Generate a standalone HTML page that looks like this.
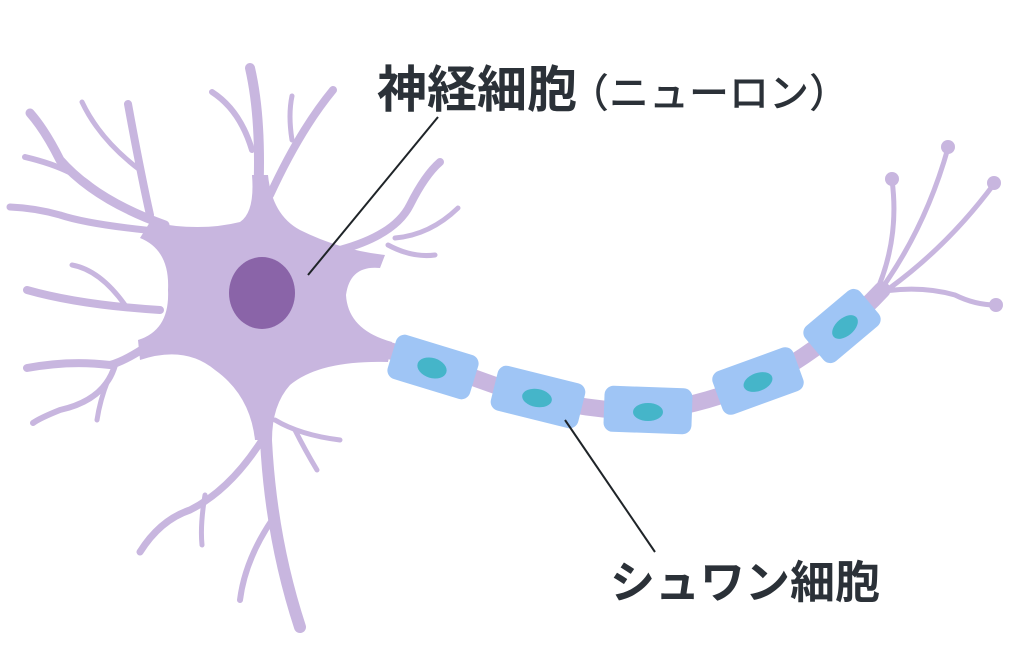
<!DOCTYPE html>
<html><head><meta charset="utf-8"><style>
html,body{margin:0;padding:0;background:#fff;width:1024px;height:666px;overflow:hidden}
svg{display:block}
text{font-family:"Liberation Sans","Noto Sans CJK JP",sans-serif;fill:#2b3138}
</style></head><body>
<svg width="1024" height="666" viewBox="0 0 1024 666" xmlns="http://www.w3.org/2000/svg">
<g fill="none" stroke="#c8b6df" stroke-linecap="round">
  <!-- top -->
  <path d="M258 200 Q262 120 250 68" stroke-width="10"/>
  <path d="M252 150 Q240 110 212 92" stroke-width="6"/>
  <path d="M270 195 Q300 130 333 90" stroke-width="8"/>
  <path d="M292 140 Q288 115 292 96" stroke-width="5"/>
  <!-- right upper -->
  <path d="M340 250 Q395 235 410 205 Q425 175 440 162" stroke-width="8"/>
  <path d="M395 238 Q430 235 458 208" stroke-width="5"/>
  <path d="M388 245 Q412 258 435 255" stroke-width="5"/>
  <!-- left upper -->
  <path d="M165 225 Q95 200 60 160 Q45 130 30 113" stroke-width="9"/>
  <path d="M100 195 Q80 170 25 157" stroke-width="6"/>
  <path d="M150 215 Q140 170 128 104" stroke-width="8"/>
  <path d="M140 170 Q100 140 82 102" stroke-width="5"/>
  <path d="M165 232 Q90 225 60 215 Q35 208 10 207" stroke-width="7"/>
  <!-- left middle -->
  <path d="M160 310 Q80 305 27 290" stroke-width="8"/>
  <path d="M125 305 Q100 270 72 265" stroke-width="5"/>
  <!-- left lower -->
  <path d="M170 330 Q130 360 110 365 Q70 360 27 368" stroke-width="8"/>
  <path d="M115 365 Q105 400 60 410 Q40 418 33 423" stroke-width="6"/>
  <path d="M108 380 Q100 400 97 420" stroke-width="5"/>
  <!-- bottom -->
  <path d="M265 400 Q265 520 300 627" stroke-width="12"/>
  <path d="M272 520 Q245 560 240 600" stroke-width="6"/>
  <path d="M262 440 Q230 490 190 510 Q160 520 140 552" stroke-width="7"/>
  <path d="M205 495 Q200 525 202 545" stroke-width="5"/>
  <path d="M275 420 Q300 435 340 440" stroke-width="5"/>
  <path d="M295 430 Q305 450 317 470" stroke-width="5"/>
  <!-- axon -->
  <path d="M370 345 Q430 362 480 380 Q560 410 650 412 Q730 400 790 365 Q845 330 882 290" stroke-width="17"/>
  <!-- terminals -->
  <path d="M875 295 Q900 240 892 180" stroke-width="5"/>
  <path d="M877 295 Q925 230 948 148" stroke-width="5"/>
  <path d="M880 295 Q945 250 994 184" stroke-width="5"/>
  <path d="M878 292 Q920 285 955 295 Q975 305 996 305" stroke-width="5"/>
</g>
<g fill="#c8b6df">
  <circle cx="892" cy="179" r="7"/><circle cx="948" cy="147" r="7"/>
  <circle cx="994" cy="183" r="7"/><circle cx="996" cy="305" r="7"/>
  <!-- soma -->
  <path d="M150 222 Q200 232 240 222 Q255 212 252 175 L268 175 Q272 215 300 230 Q340 250 385 255 L380 268 Q350 265 346 295 Q348 330 392 342 L388 362 Q320 360 290 385 Q272 405 272 440 L255 440 Q250 395 215 370 Q185 345 140 360 L138 340 Q170 330 168 290 Q170 250 140 238 Z"/>
</g>
<ellipse cx="262" cy="293" rx="33" ry="36" fill="#8a64a8"/>
<g fill="#9fc5f5">
  <rect x="-43" y="-23" width="86" height="46" rx="9" transform="translate(433,367) rotate(17)"/>
  <rect x="-45" y="-23" width="90" height="46" rx="9" transform="translate(538,397) rotate(14)"/>
  <rect x="-44" y="-23" width="88" height="46" rx="9" transform="translate(648,410) rotate(2)"/>
  <rect x="-43" y="-23" width="86" height="46" rx="9" transform="translate(758,381) rotate(-20)"/>
  <rect x="-36" y="-23" width="72" height="46" rx="9" transform="translate(842,326) rotate(-40)"/>
</g>
<g fill="#45b5c9">
  <ellipse cx="432" cy="368" rx="15" ry="10" transform="rotate(17 432 368)"/>
  <ellipse cx="537" cy="398" rx="15" ry="9" transform="rotate(10 537 398)"/>
  <ellipse cx="648" cy="412" rx="15" ry="9"/>
  <ellipse cx="758" cy="382" rx="15" ry="9" transform="rotate(-20 758 382)"/>
  <ellipse cx="845" cy="327" rx="15" ry="9" transform="rotate(-40 845 327)"/>
</g>
<g stroke="#1f2428" stroke-width="2">
  <line x1="438" y1="117" x2="308" y2="275"/>
  <line x1="565" y1="420" x2="655" y2="552"/>
</g>
<text x="377" y="107" font-size="50" font-weight="bold">神経細胞<tspan font-size="40" font-weight="500" dx="-8">（ニューロン）</tspan></text>
<text x="610" y="598" font-size="45" font-weight="bold">シュワン細胞</text>
</svg>
</body></html>
